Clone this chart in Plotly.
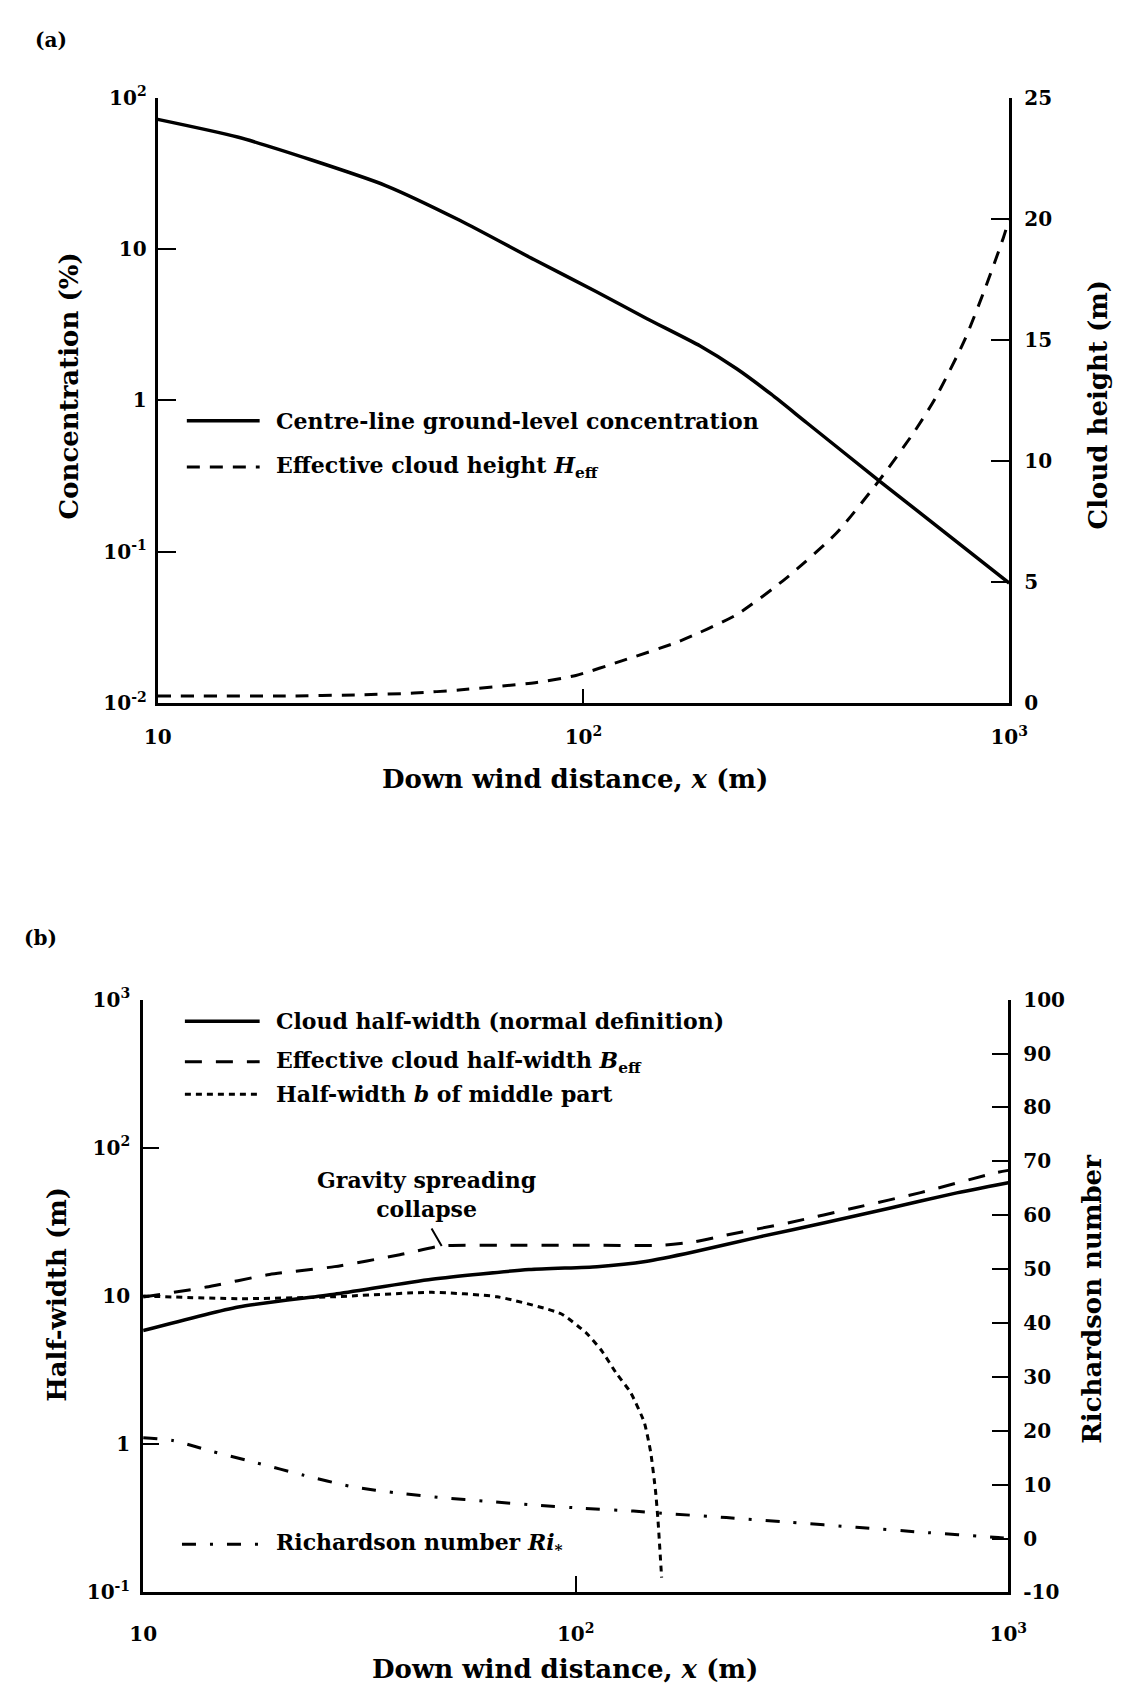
import math
import plotly.graph_objects as go

W, H = 1136, 1699

# ---------------- (a) concentration and effective cloud height ----------------
conc_x = [10, 15.4, 22.9, 34.3, 51.2, 76.7, 107, 141, 188, 229, 276, 335, 495, 1000]
conc_pct = [71.9, 55.0, 38.9, 26.3, 15.5, 8.5, 5.25, 3.47, 2.29, 1.62, 1.10, 0.71, 0.295, 0.0622]

heff_x = [10, 20, 30, 40, 51, 77, 96, 123, 168, 229, 299, 393, 495, 598, 671, 786, 881, 968, 1000]
heff_m = [0.3, 0.3, 0.35, 0.42, 0.55, 0.85, 1.15, 1.75, 2.56, 3.66, 5.16, 7.03, 9.2, 11.2, 12.6, 15.0, 17.2, 19.2, 20.0]

# ---------------- (b) cloud half-widths and Richardson number ----------------
width_x = [10, 16.6, 27.7, 46.5, 78, 112, 145, 188, 266, 374, 528, 747, 1000]
width_m = [5.85, 8.45, 10.3, 13.0, 15.1, 15.8, 17.1, 19.9, 25.1, 31.1, 39.0, 49.1, 58.1]

beff_x = [10, 14.0, 19.6, 27.7, 39.2, 49.0, 66.8, 112, 158, 188, 223, 315, 445, 627, 933, 1000]
beff_m = [9.85, 11.5, 14.0, 15.8, 19.0, 21.8, 22.0, 22.0, 22.0, 23.2, 25.8, 31.5, 39.6, 49.9, 67.8, 70.5]

bmid_x = [10, 16.6, 27.7, 46.5, 65.8, 92.5, 106, 115, 124, 134, 144, 149, 153, 155, 158]
bmid_m = [10.0, 9.6, 9.9, 10.6, 9.9, 7.6, 5.6, 4.25, 3.03, 2.23, 1.41, 0.89, 0.48, 0.305, 0.126]

ri_x = [10, 11.7, 14.4, 18.4, 23.4, 30.3, 39.2, 49.0, 62.5, 80.9, 105, 136, 158, 223, 315, 445, 627, 948, 1000]
ri_val = [18.7, 18.2, 16.2, 14.0, 11.8, 9.65, 8.4, 7.6, 6.9, 6.2, 5.6, 5.1, 4.7, 3.9, 3.0, 2.1, 1.2, 0.2, 0.0]

collapse_index = 5  # point on the B_eff curve where gravity spreading collapses

# ---------------- tick labels ----------------
dist_ticks = [10, 100, 1000]
dist_text = ["10", "10<sup>2</sup>", "10<sup>3</sup>"]
conc_ticks = [0.01, 0.1, 1, 10, 100]
conc_text = ["10<sup>-2</sup>", "10<sup>-1</sup>", "1", "10", "10<sup>2</sup>"]
height_ticks = [0, 5, 10, 15, 20, 25]
halfw_ticks = [0.1, 1, 10, 100, 1000]
halfw_text = ["10<sup>-1</sup>", "1", "10", "10<sup>2</sup>", "10<sup>3</sup>"]
ri_ticks = list(range(-10, 101, 10))
ri_text = [str(v) for v in ri_ticks]

# ---------------- labels ----------------
labels_a = ["Centre-line ground-level concentration",
            "Effective cloud height <i>H</i><sub>eff</sub>"]
labels_b = ["Cloud half-width (normal definition)",
            "Effective cloud half-width <i>B</i><sub>eff</sub>",
            "Half-width <i>b</i> of middle part"]
label_ri = "Richardson number <i>Ri</i><sub>*</sub>"

FAM = "DejaVu Serif"
INK = "black"


def px(x):
    return x / W


def py(y):
    return 1 - y / H


def font(size):
    return dict(family=FAM, size=size, color=INK, weight="bold")


DASH = "13px,10px"
DASH_B = "17px,14px"
SHORT = "6px,5px"
DASHDOT = "14px,14px,3px,14px"

fig = go.Figure()

# panel (a)
fig.add_trace(go.Scatter(x=conc_x, y=conc_pct, xaxis="x", yaxis="y", mode="lines",
                         name=labels_a[0], showlegend=False,
                         line=dict(color=INK, width=3.5, shape="spline", smoothing=0.6)))
fig.add_trace(go.Scatter(x=heff_x, y=heff_m, xaxis="x", yaxis="y2", mode="lines",
                         name=labels_a[1], showlegend=False,
                         line=dict(color=INK, width=3, dash=DASH, shape="spline", smoothing=0.6)))

# panel (b)
fig.add_trace(go.Scatter(x=width_x, y=width_m, xaxis="x2", yaxis="y3", mode="lines",
                         name=labels_b[0], showlegend=False,
                         line=dict(color=INK, width=3.5, shape="spline", smoothing=0.6)))
fig.add_trace(go.Scatter(x=beff_x, y=beff_m, xaxis="x2", yaxis="y3", mode="lines",
                         name=labels_b[1], showlegend=False,
                         line=dict(color=INK, width=3, dash=DASH_B, shape="spline", smoothing=0.5)))
fig.add_trace(go.Scatter(x=bmid_x, y=bmid_m, xaxis="x2", yaxis="y3", mode="lines",
                         name=labels_b[2], showlegend=False,
                         line=dict(color=INK, width=3, dash=SHORT, shape="spline", smoothing=0.5)))
fig.add_trace(go.Scatter(x=ri_x, y=ri_val, xaxis="x2", yaxis="y4", mode="lines",
                         name=label_ri, showlegend=False,
                         line=dict(color=INK, width=3, dash=DASHDOT, shape="spline", smoothing=0.6)))

axis_common = dict(showline=True, linecolor=INK, linewidth=3, ticks="inside",
                   tickcolor=INK, tickwidth=2, showgrid=False, zeroline=False,
                   mirror=False, tickfont=font(20))

dom_a_x = [px(148), px(1025)]
dom_a_y = [py(700), py(85)]
dom_b_x = [px(133), px(1024)]
dom_b_y = [py(1603), py(1001)]

fig.update_layout(
    width=W, height=H,
    margin=dict(l=0, r=0, t=0, b=0),
    paper_bgcolor="white", plot_bgcolor="white",
    font=font(20),
    showlegend=False,
    xaxis=dict(axis_common, domain=dom_a_x, type="log", range=[1, 3], anchor="y",
               tickvals=dist_ticks, ticktext=dist_text, ticklen=14, ticklabelstandoff=14),
    yaxis=dict(axis_common, domain=dom_a_y, type="log", range=[-2, 2], anchor="x",
               tickvals=conc_ticks, ticktext=conc_text, ticklen=18, ticklabelstandoff=4),
    yaxis2=dict(axis_common, overlaying="y", side="right", anchor="x", range=[0, 25],
                tickvals=height_ticks, ticklen=18, ticklabelstandoff=8),
    xaxis2=dict(axis_common, domain=dom_b_x, type="log", range=[1, 3], anchor="y3",
                tickvals=dist_ticks, ticktext=dist_text, ticklen=16, ticklabelstandoff=22),
    yaxis3=dict(axis_common, domain=dom_b_y, type="log", range=[-1, 3], anchor="x2",
                tickvals=halfw_ticks, ticktext=halfw_text, ticklen=16, ticklabelstandoff=6),
    yaxis4=dict(axis_common, overlaying="y3", side="right", anchor="x2", range=[-10, 100],
                tickvals=ri_ticks, ticktext=ri_text, ticklen=16, ticklabelstandoff=8),
)

shapes = []
annotations = []


def text_at(x, y, text, size, angle=0, anchor="center"):
    annotations.append(dict(xref="paper", yref="paper", x=px(x), y=py(y),
                            xanchor=anchor, yanchor="middle", showarrow=False,
                            textangle=angle, text=text, font=font(size)))


def legend_entry(x0, x1, xt, y, label, dash, width):
    shapes.append(dict(type="line", xref="paper", yref="paper",
                       x0=px(x0), x1=px(x1), y0=py(y), y1=py(y),
                       line=dict(color=INK, width=width, dash=dash)))
    text_at(xt, y, label, 22, anchor="left")


# legend of (a)
legend_entry(178, 253, 268, 413, labels_a[0], "solid", 3.5)
legend_entry(178, 253, 268, 460, labels_a[1], DASH, 3)
# legend of (b)
legend_entry(176, 253, 268, 1023, labels_b[0], "solid", 3.5)
legend_entry(176, 253, 268, 1064, labels_b[1], DASH_B, 3)
legend_entry(176, 253, 268, 1097, labels_b[2], SHORT, 3)
legend_entry(173, 253, 268, 1554, label_ri, DASHDOT, 3)

# panel letters
text_at(38, 26, "(a)", 20)
text_at(27, 938, "(b)", 20)

# axis titles
x_title = "Down wind distance, <i>x</i> (m)"
text_at(578, 777, x_title, 26)
text_at(57, 378, "Concentration (%)", 26, angle=-90)
text_at(1116, 397, "Cloud height (m)", 26, angle=-90)
text_at(567, 1681, x_title, 26)
text_at(44, 1300, "Half-width (m)", 26, angle=-90)
text_at(1110, 1305, "Richardson number", 26, angle=-90)

# gravity spreading collapse note with a leader to the B_eff curve
text_at(425, 1199, "Gravity spreading<br>collapse", 22)
annotations.append(dict(xref="x2", yref="y3",
                        x=math.log10(beff_x[collapse_index]), y=math.log10(beff_m[collapse_index]),
                        text="", showarrow=True, arrowhead=0, arrowwidth=2, arrowcolor=INK,
                        ax=-11, ay=-19))

fig.update_layout(shapes=shapes, annotations=annotations)

fig.write_html("out.html")
